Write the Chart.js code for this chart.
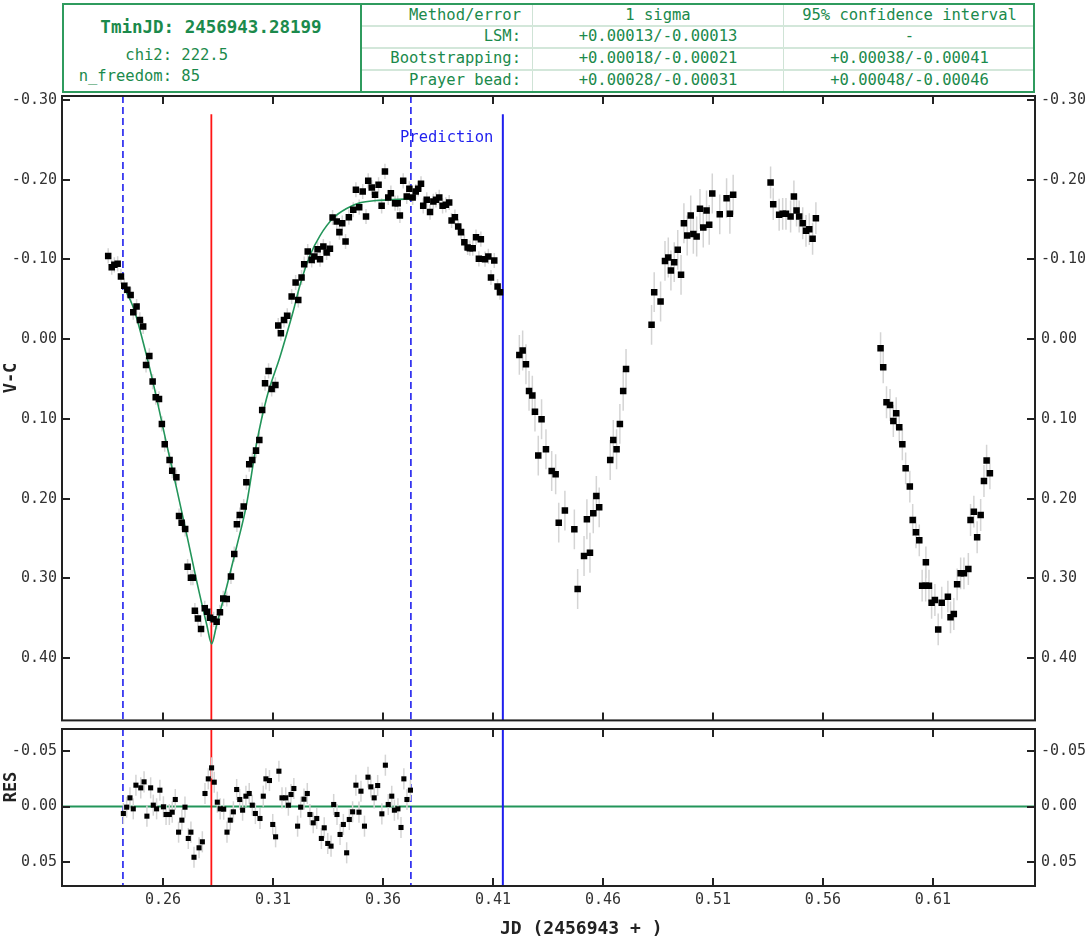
<!DOCTYPE html>
<html><head><meta charset="utf-8">
<script src="https://cdn.jsdelivr.net/npm/chart.js@4.4.1/dist/chart.umd.min.js"></script>
<style>
html,body{margin:0;padding:0;background:#fff;}
body{width:1089px;height:940px;position:relative;overflow:hidden;font-family:"DejaVu Sans Mono",monospace;}
.a{position:absolute;}
canvas{display:block;}
.g{color:#1b8a4c;font-size:15.5px;white-space:pre;}
.cell{height:21px;line-height:21px;}
.r{text-align:right;}
.c{text-align:center;}
.ttl{position:absolute;font-weight:bold;font-size:17px;color:#222;white-space:pre;}
.rot{width:60px;height:20px;line-height:20px;text-align:center;transform:rotate(-90deg);}
</style></head>
<body>
<!-- header box -->
<div class="a" style="left:62px;top:3px;width:973px;height:90px;border:2px solid #2f9b5e;box-sizing:border-box;"></div>
<div class="a" style="left:360px;top:3px;width:2px;height:90px;background:#2f9b5e;"></div>
<div class="a" style="left:532px;top:5px;width:1px;height:86px;background:#cfe3d6;"></div>
<div class="a" style="left:783px;top:5px;width:1px;height:86px;background:#cfe3d6;"></div>
<div class="a" style="left:362px;top:25px;width:671px;height:2px;background:#d3e7da;"></div>
<div class="a" style="left:362px;top:47px;width:671px;height:2px;background:#d3e7da;"></div>
<div class="a" style="left:362px;top:69px;width:671px;height:2px;background:#d3e7da;"></div>

<div class="a g c" style="left:62px;width:298px;top:16px;height:22px;line-height:22px;font-weight:bold;font-size:17.5px;">TminJD: 2456943.28199</div>
<div class="a g r" style="left:62px;width:110px;top:45px;line-height:21px;">chi2:</div>
<div class="a g" style="left:172px;top:45px;line-height:21px;"> 222.5</div>
<div class="a g r" style="left:62px;width:110px;top:66px;line-height:21px;">n_freedom:</div>
<div class="a g" style="left:172px;top:66px;line-height:21px;"> 85</div>

<div class="a g cell r" style="left:362px;width:159px;top:5px;">Method/error</div>
<div class="a g cell r" style="left:362px;width:159px;top:26px;">LSM:</div>
<div class="a g cell r" style="left:362px;width:159px;top:48px;">Bootstrapping:</div>
<div class="a g cell r" style="left:362px;width:159px;top:70px;">Prayer bead:</div>
<div class="a g cell c" style="left:533px;width:250px;top:5px;">1 sigma</div>
<div class="a g cell c" style="left:533px;width:250px;top:26px;">+0.00013/-0.00013</div>
<div class="a g cell c" style="left:533px;width:250px;top:48px;">+0.00018/-0.00021</div>
<div class="a g cell c" style="left:533px;width:250px;top:70px;">+0.00028/-0.00031</div>
<div class="a g cell c" style="left:784px;width:251px;top:5px;">95% confidence interval</div>
<div class="a g cell c" style="left:784px;width:251px;top:26px;">-</div>
<div class="a g cell c" style="left:784px;width:251px;top:48px;">+0.00038/-0.00041</div>
<div class="a g cell c" style="left:784px;width:251px;top:70px;">+0.00048/-0.00046</div>

<div class="a" style="left:0;top:0;width:1089px;height:725px;"><canvas id="main" width="1089" height="725"></canvas></div>
<div class="a" style="left:0;top:722px;width:1089px;height:218px;"><canvas id="res" width="1089" height="218"></canvas></div>

<div class="a" style="left:400px;top:128px;color:#1f1fee;font-size:15.5px;white-space:pre;">Prediction</div>
<div class="ttl rot" style="left:-20px;top:368px;">V-C</div>
<div class="ttl rot" style="left:-20px;top:777px;">RES</div>
<div class="ttl" style="left:500px;top:916px;font-size:18px;line-height:24px;">JD (2456943 + )</div>

<script>
// ---------------- data ----------------
const xTickVals = [0.26, 0.31, 0.36, 0.41, 0.46, 0.51, 0.56, 0.61];
const yTickVals = [-0.30, -0.20, -0.10, 0.00, 0.10, 0.20, 0.30, 0.40];
const resTickVals = [-0.05, 0.00, 0.05];
const xRange = [0.2141, 0.6564];
const yRange = [-0.305, 0.478];
const resRange = [-0.0698, 0.0716];

const tMinX = 0.28199;       // red line
const fitStartX = 0.2418;    // dashed blue
const fitEndX = 0.3727;      // dashed blue
const predictionX = 0.4145;  // solid blue
const solidLineTop = -0.282; // value where red / blue solid lines begin

const segErr = [0.0095, 0.025, 0.020, 0.020];
const resErr = 0.0095;

const cycleA = [
[0.2351,-0.1045],[0.2367,-0.0903],[0.2379,-0.0933],[0.2394,-0.0945],[0.2409,-0.0786],[0.2424,-0.0669],
[0.2438,-0.0619],[0.2453,-0.0556],[0.2465,-0.0339],[0.2480,-0.0410],[0.2495,-0.0242],[0.2510,-0.0159],
[0.2523,0.0322],[0.2538,0.0209],[0.2553,0.0531],[0.2567,0.0728],[0.2582,0.0749],[0.2595,0.1062],
[0.2608,0.1317],[0.2630,0.1514],[0.2642,0.1648],[0.2661,0.1731],[0.2673,0.2217],[0.2685,0.2300],
[0.2701,0.2380],[0.2712,0.2852],[0.2727,0.2990],[0.2736,0.2990],[0.2745,0.3404],[0.2759,0.3501],
[0.2773,0.3635],[0.2790,0.3375],[0.2801,0.3417],[0.2814,0.3492],[0.2830,0.3513],[0.2844,0.3542],
[0.2859,0.3425],[0.2874,0.3250],[0.2890,0.3258],[0.2909,0.2974],[0.2924,0.2694],[0.2936,0.2321],
[0.2949,0.2204],[0.2967,0.2099],[0.2979,0.1794],[0.2992,0.1568],[0.3006,0.1514],[0.3023,0.1397],
[0.3038,0.1263],[0.3051,0.0887],[0.3064,0.0552],[0.3080,0.0397],[0.3094,0.0623],[0.3111,0.0573],
[0.3124,-0.0171],[0.3136,-0.0075],[0.3150,-0.0242],[0.3165,-0.0293],
[0.3185,-0.0536],[0.3203,-0.0711],[0.3215,-0.0493],[0.3230,-0.0774],[0.3242,-0.0941],[0.3258,-0.1100],
[0.3276,-0.0995],[0.3288,-0.1038],[0.3303,-0.1129],[0.3314,-0.1004],[0.3329,-0.1163],[0.3344,-0.1088],
[0.3359,-0.1133],[0.3371,-0.1526],[0.3390,-0.1477],[0.3402,-0.1343],[0.3415,-0.1455],[0.3430,-0.1226],
[0.3445,-0.1531],[0.3465,-0.1623],[0.3477,-0.1874],[0.3492,-0.1656],[0.3508,-0.1853],[0.3523,-0.1539],
[0.3533,-0.1986],[0.3549,-0.1903],[0.3564,-0.1811],[0.3580,-0.1936],[0.3594,-0.1673],[0.3609,-0.2104],
[0.3624,-0.1778],[0.3636,-0.1832],[0.3655,-0.1706],[0.3667,-0.1706],[0.3677,-0.1552],[0.3692,-0.1986],
[0.3708,-0.1790],[0.3720,-0.1886],[0.3735,-0.1778],[0.3749,-0.1853],[0.3760,-0.1886],[0.3773,-0.1949],
[0.3783,-0.1673],[0.3799,-0.1748],[0.3814,-0.1594],[0.3829,-0.1728],[0.3841,-0.1748],[0.3856,-0.1778],
[0.3871,-0.1673],[0.3886,-0.1685],[0.3901,-0.1715],[0.3912,-0.1489],[0.3927,-0.1531],[0.3942,-0.1414],
[0.3955,-0.1343],[0.3970,-0.1217],[0.3985,-0.1151],[0.3995,-0.1142],[0.4008,-0.1142],[0.4023,-0.1280],
[0.4036,-0.1008],[0.4045,-0.1255],[0.4064,-0.1004],[0.4079,-0.1038],[0.4091,-0.0774],[0.4106,-0.0987],
[0.4121,-0.0661],[0.4132,-0.0590]
];
const cycleB = [
[0.4220,0.0197],[0.4235,0.0142],[0.4250,0.0314],[0.4264,0.0648],[0.4279,0.0707],[0.4291,0.0908],
[0.4306,0.1459],[0.4321,0.1004],[0.4341,0.1380],[0.4367,0.1652],[0.4385,0.1694],[0.4399,0.2300],
[0.4427,0.2149],[0.4470,0.2384],[0.4485,0.3133],[0.4514,0.2719],[0.4527,0.2258],[0.4541,0.2677],
[0.4556,0.2183],[0.4570,0.1966],[0.4583,0.2108],[0.4633,0.1514],[0.4647,0.1263],[0.4662,0.1380],
[0.4677,0.1062],[0.4692,0.0648],[0.4705,0.0372],[0.4821,-0.0180],[0.4833,-0.0590],[0.4862,-0.0473],
[0.4882,-0.0982],[0.4897,-0.1025],[0.4909,-0.0862],[0.4924,-0.0966],[0.4940,-0.1121],[0.4955,-0.0807],
[0.4968,-0.1455],[0.4983,-0.1301],[0.4999,-0.1552],[0.5011,-0.1321],[0.5026,-0.1288],[0.5041,-0.1635],
[0.5056,-0.1401],[0.5071,-0.1615],[0.5083,-0.1434],[0.5097,-0.1828],[0.5131,-0.1566],[0.5162,-0.1769],
[0.5177,-0.1572],[0.5192,-0.1811]
];
const cycleC = [
[0.5362,-0.1966],[0.5374,-0.1694],[0.5401,-0.1560],[0.5417,-0.1572],[0.5432,-0.1572],[0.5453,-0.1539],
[0.5468,-0.1790],[0.5480,-0.1615],[0.5492,-0.1539],[0.5508,-0.1455],[0.5523,-0.1359],[0.5538,-0.1380],
[0.5553,-0.1259],[0.5568,-0.1518]
];
const cycleD = [
[0.5862,0.0113],[0.5874,0.0351],[0.5889,0.0790],[0.5905,0.0824],[0.5920,0.1025],[0.5933,0.0928],
[0.5947,0.1104],[0.5961,0.1317],[0.5976,0.1619],[0.5995,0.1848],[0.6008,0.2267],[0.6023,0.2422],
[0.6038,0.2522],[0.6051,0.3090],[0.6067,0.3090],[0.6068,0.2798],[0.6082,0.3090],[0.6094,0.3304],
[0.6109,0.3271],[0.6124,0.3639],[0.6140,0.3304],[0.6168,0.3228],[0.6180,0.3488],[0.6195,0.3446],
[0.6210,0.3074],[0.6226,0.2936],[0.6241,0.2936],[0.6261,0.2882],[0.6271,0.2267],[0.6286,0.2162],
[0.6301,0.2484],[0.6317,0.2204],[0.6332,0.1778],[0.6344,0.1522],[0.6359,0.1681]
];
const fitCurve = [
[0.2418,-0.067],[0.2465,-0.040],[0.2523,0.018],[0.2553,0.052],[0.2617,0.132],[0.2662,0.187],
[0.2708,0.245],[0.2753,0.303],[0.2799,0.358],[0.2821,0.382],[0.2844,0.358],[0.2890,0.310],
[0.2935,0.260],[0.2980,0.207],[0.3026,0.130],[0.3071,0.074],[0.3132,0.022],[0.3162,-0.006],
[0.3192,-0.035],[0.3223,-0.068],[0.3268,-0.105],[0.3314,-0.130],[0.3374,-0.152],[0.3435,-0.164],
[0.3495,-0.171],[0.3571,-0.174],[0.3647,-0.175],[0.3727,-0.176]
];
const residuals = [
[0.2420,0.0063],[0.2435,0.0006],[0.2450,-0.0078],[0.2465,0.0021],[0.2477,-0.0192],[0.2499,-0.0168],
[0.2514,-0.0222],[0.2527,0.0087],[0.2544,-0.0168],[0.2556,-0.0012],[0.2571,0.0021],[0.2586,-0.0147],
[0.2602,0.0003],[0.2614,0.0072],[0.2629,0.0072],[0.2642,0.0051],[0.2656,-0.0063],[0.2671,0.0231],
[0.2686,0.0123],[0.2700,0.0006],[0.2715,0.0288],[0.2727,0.0231],[0.2741,0.0457],[0.2764,0.0372],
[0.2779,0.0318],[0.2791,-0.0117],[0.2806,-0.0249],[0.2821,-0.0348],[0.2833,-0.0219],[0.2847,-0.0039],
[0.2860,0.0021],[0.2876,0.0024],[0.2891,0.0231],[0.2906,0.0123],[0.2920,0.0048],[0.2935,-0.0153],
[0.2949,-0.0063],[0.2962,0.0033],[0.2977,-0.0093],[0.2992,-0.0117],[0.3006,-0.0012],[0.3020,0.0063],
[0.3041,0.0108],[0.3056,-0.0093],[0.3068,-0.0249],[0.3084,-0.0234],[0.3099,0.0162],[0.3112,0.0273],
[0.3127,-0.0318],[0.3141,-0.0078],[0.3158,-0.0078],[0.3170,-0.0012],[0.3182,-0.0108],[0.3195,-0.0162],
[0.3212,0.0177],[0.3226,0.0006],[0.3241,-0.0066],[0.3256,-0.0117],[0.3268,0.0072],[0.3283,0.0147],
[0.3299,0.0108],[0.3320,0.0288],[0.3333,0.0192],[0.3349,0.0333],[0.3364,0.0357],[0.3376,-0.0018],
[0.3391,0.0072],[0.3405,0.0252],[0.3420,0.0162],[0.3435,0.0417],[0.3447,0.0117],[0.3462,0.0048],
[0.3477,-0.0192],[0.3491,0.0051],[0.3500,-0.0138],[0.3516,0.0177],[0.3532,-0.0264],[0.3545,-0.0177],
[0.3560,-0.0078],[0.3576,-0.0189],[0.3595,0.0066],[0.3611,-0.0372],[0.3624,-0.0018],[0.3640,-0.0093],
[0.3652,0.0033],[0.3668,0.0021],[0.3682,0.0189],[0.3695,-0.0249],[0.3709,-0.0063],[0.3725,-0.0147]
];

// ---------------- styles ----------------
const FONT = "'DejaVu Sans Mono', monospace";
const TICK_COLOR = '#333';
const BLUE = '#1f1fee', RED = '#ff1414', GREEN = '#23955a', FRAME = '#222';
const pts = a => a.map(p => ({x: p[0], y: p[1]}));

const decor = {
  id: 'decor',
  beforeDatasetsDraw(chart, args, o) {
    const {ctx, chartArea: a, scales} = chart;
    const xs = scales.x, ys = scales.y;
    ctx.save();
    ctx.beginPath(); ctx.rect(a.left, a.top, a.right - a.left, a.bottom - a.top); ctx.clip();
    (o.hlines || []).forEach(h => {
      const py = ys.getPixelForValue(h.y);
      ctx.strokeStyle = h.color; ctx.lineWidth = h.width; ctx.setLineDash([]);
      ctx.beginPath(); ctx.moveTo(a.left, py); ctx.lineTo(a.right, py); ctx.stroke();
    });
    (o.vlines || []).forEach(v => {
      const px = xs.getPixelForValue(v.x);
      const top = v.from === undefined ? a.top : ys.getPixelForValue(v.from);
      ctx.strokeStyle = v.color; ctx.lineWidth = v.width; ctx.setLineDash(v.dash || []);
      ctx.beginPath(); ctx.moveTo(px, top); ctx.lineTo(px, a.bottom); ctx.stroke();
    });
    ctx.setLineDash([]);
    ctx.strokeStyle = '#d4d4d4'; ctx.lineWidth = 1.5;
    chart.data.datasets.forEach(ds => {
      if (ds.err === undefined) return;
      ds.data.forEach(p => {
        const px = xs.getPixelForValue(p.x);
        ctx.beginPath();
        ctx.moveTo(px, ys.getPixelForValue(p.y - ds.err));
        ctx.lineTo(px, ys.getPixelForValue(p.y + ds.err));
        ctx.stroke();
      });
    });
    ctx.restore();
  },
  afterDraw(chart) {
    const {ctx, chartArea: a, scales} = chart;
    const xs = scales.x, ys = scales.y;
    ctx.save();
    ctx.strokeStyle = FRAME; ctx.lineWidth = 2;
    ctx.strokeRect(a.left, a.top, a.right - a.left, a.bottom - a.top);
    const L = 8;
    ctx.beginPath();
    xs.ticks.forEach(t => {
      const px = Math.round(xs.getPixelForValue(t.value));
      ctx.moveTo(px, a.top); ctx.lineTo(px, a.top + L);
      ctx.moveTo(px, a.bottom); ctx.lineTo(px, a.bottom - L);
    });
    ys.ticks.forEach(t => {
      const py = Math.round(ys.getPixelForValue(t.value));
      ctx.moveTo(a.left, py); ctx.lineTo(a.left + L, py);
      ctx.moveTo(a.right, py); ctx.lineTo(a.right - L, py);
    });
    ctx.stroke();
    ctx.restore();
  }
};

const noPad = s => { s.paddingTop = 0; s.paddingBottom = 0; s.paddingLeft = 0; s.paddingRight = 0; };

function yAxis(pos, range, ticks, width) {
  return {
    type: 'linear', position: pos, reverse: true, min: range[0], max: range[1],
    afterBuildTicks: s => { s.ticks = ticks.map(v => ({value: v})); },
    afterFit: s => { s.width = width; noPad(s); },
    grid: {display: false, drawTicks: false}, border: {display: false},
    ticks: {color: TICK_COLOR, font: {family: FONT, size: 15}, padding: pos === 'left' ? 5 : 6,
            callback: v => v.toFixed(2)}
  };
}
function xAxis(showLabels, height) {
  return {
    type: 'linear', position: 'bottom', min: xRange[0], max: xRange[1],
    afterBuildTicks: s => { s.ticks = xTickVals.map(v => ({value: v})); },
    afterFit: s => { s.height = height; noPad(s); },
    grid: {display: false, drawTicks: false}, border: {display: false},
    ticks: {display: showLabels, color: TICK_COLOR, font: {family: FONT, size: 15}, padding: 5,
            maxRotation: 0, autoSkip: false, callback: v => v.toFixed(2)}
  };
}
const sq = (data, err, r) => ({
  type: 'scatter', data: pts(data), err: err, pointStyle: 'rect', pointRadius: r,
  pointHoverRadius: r, backgroundColor: '#000', borderColor: '#000', borderWidth: 0
});

Chart.defaults.animation = false;

new Chart(document.getElementById('main'), {
  type: 'scatter',
  data: {datasets: [
    sq(cycleA, segErr[0], 4.6), sq(cycleB, segErr[1], 4.6), sq(cycleC, segErr[2], 4.6), sq(cycleD, segErr[3], 4.6),
    {type: 'line', data: pts(fitCurve), borderColor: GREEN, borderWidth: 1.6, pointRadius: 0,
     fill: false, cubicInterpolationMode: 'monotone'}
  ]},
  options: {
    responsive: false, animation: false, events: [],
    layout: {padding: {top: 96, left: 0, right: 0, bottom: 0}},
    plugins: {legend: {display: false}, tooltip: {enabled: false},
      decor: {vlines: [
        {x: fitStartX, color: BLUE, width: 1.6, dash: [7, 4]},
        {x: fitEndX, color: BLUE, width: 1.6, dash: [7, 4]},
        {x: tMinX, color: RED, width: 1.8, from: solidLineTop},
        {x: predictionX, color: BLUE, width: 2, from: solidLineTop}
      ]}},
    scales: {
      x: xAxis(false, 4),
      y: yAxis('left', yRange, yTickVals, 62),
      yR: yAxis('right', yRange, yTickVals, 54)
    }
  },
  plugins: [decor]
});

new Chart(document.getElementById('res'), {
  type: 'scatter',
  data: {datasets: [sq(residuals, resErr, 3.6)]},
  options: {
    responsive: false, animation: false, events: [],
    layout: {padding: {top: 7, left: 0, right: 0, bottom: 0}},
    plugins: {legend: {display: false}, tooltip: {enabled: false},
      decor: {
        hlines: [{y: 0, color: GREEN, width: 2}],
        vlines: [
          {x: fitStartX, color: BLUE, width: 1.6, dash: [7, 4]},
          {x: fitEndX, color: BLUE, width: 1.6, dash: [7, 4]},
          {x: tMinX, color: RED, width: 1.8},
          {x: predictionX, color: BLUE, width: 2}
        ]}},
    scales: {
      x: xAxis(true, 54),
      y: yAxis('left', resRange, resTickVals, 62),
      yR: yAxis('right', resRange, resTickVals, 54)
    }
  },
  plugins: [decor]
});
</script>
</body></html>
